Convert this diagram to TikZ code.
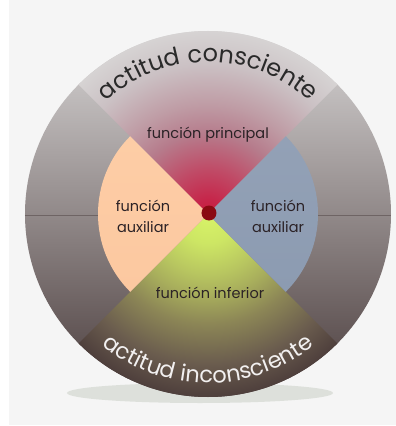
\documentclass[tikz,border=0pt]{standalone}
\usepackage{fontspec}
\setmainfont{Poppins}
\usetikzlibrary{decorations.text}
\definecolor{bgc}{HTML}{F5F5F5}
\definecolor{shadowc}{HTML}{DDE0DB}
\definecolor{dtop}{HTML}{D8D6D6}
\definecolor{dmid}{HTML}{8E8A8A}
\definecolor{dbot}{HTML}{4A3C3C}
\definecolor{tw0}{HTML}{C81C3C}
\definecolor{tw1}{HTML}{C6264A}
\definecolor{tw2}{HTML}{C04A66}
\definecolor{tw3}{HTML}{B67C8C}
\definecolor{tw4}{HTML}{BF9CA5}
\definecolor{tw5}{HTML}{CBC1C4}
\definecolor{tw6}{HTML}{D6D3D3}
\definecolor{bw0}{HTML}{D8F468}
\definecolor{bw1}{HTML}{CDE664}
\definecolor{bw2}{HTML}{B8C660}
\definecolor{bw3}{HTML}{A8AE5C}
\definecolor{bw4}{HTML}{8C8656}
\definecolor{bw5}{HTML}{6A5C4E}
\definecolor{bw6}{HTML}{4E3F3C}
\definecolor{peach}{HTML}{FCC8A0}
\definecolor{peachtop}{HTML}{FDCDA6}
\definecolor{bluegray}{HTML}{8C9BB1}
\definecolor{bluegraytop}{HTML}{93A1B6}
\definecolor{dotc}{HTML}{8A0A12}
\definecolor{linec}{HTML}{6E6464}
\definecolor{labc}{HTML}{2B2226}
\definecolor{toptext}{HTML}{2A2A2A}
\definecolor{bottext}{HTML}{F2F0F0}
\pgfdeclareradialshading{topwedge}{\pgfpoint{0bp}{0bp}}{color(0bp)=(tw0); color(2bp)=(tw1); color(6bp)=(tw2); color(11bp)=(tw3); color(15bp)=(tw4); color(20.5bp)=(tw5); color(25bp)=(tw6); color(50bp)=(tw6)}
\pgfdeclareradialshading{botwedge}{\pgfpoint{0bp}{0bp}}{color(0bp)=(bw0); color(4bp)=(bw1); color(8.2bp)=(bw2); color(11bp)=(bw3); color(15bp)=(bw4); color(20.5bp)=(bw5); color(25bp)=(bw6); color(50bp)=(bw6)}
\tikzset{
  lab/.style={text=labc, font=\fontsize{14.5}{21}\selectfont, align=center, inner sep=0pt},
  ringline/.style={draw=linec, line width=0.8pt}
}
\begin{document}
\begin{tikzpicture}[x=1pt,y=1pt]
\useasboundingbox (-208,-212) rectangle (188,214);
\fill[white] (-208,-212) rectangle (188,214);
\fill[bgc] (-199,-211) rectangle (188,214);
% shadow
\fill[shadowc] (-8,-179) ellipse [x radius=133pt, y radius=10pt];
% outer disc
\shade[top color=dtop, middle color=dmid, bottom color=dbot] (0,0) circle [radius=183pt];
% top wedge
\begin{scope}
  \clip (0,0) -- (45:183pt) arc[start angle=45, end angle=135, radius=183pt] -- cycle;
  \shade[shading=topwedge] (0,0) circle [radius=183pt];
\end{scope}
% bottom wedge
\begin{scope}
  \clip (0,0) -- (225:183pt) arc[start angle=225, end angle=315, radius=183pt] -- cycle;
  \shade[shading=botwedge] (0,0) circle [radius=183pt];
\end{scope}
% side sectors
\shade[top color=peachtop, bottom color=peach] (0,0) -- (135:110pt) arc[start angle=135, end angle=225, radius=110pt] -- cycle;
\shade[top color=bluegraytop, bottom color=bluegray] (0,0) -- (-45:110pt) arc[start angle=-45, end angle=45, radius=110pt] -- cycle;
% horizontal lines
\coordinate (lo) at (-183,-1);
\coordinate (li) at (-110,-1);
\coordinate (ri) at (110,-1);
\coordinate (ro) at (183,-1);
\draw[ringline] (lo) -- (li);
\draw[ringline] (ri) -- (ro);
% center dot
\fill[dotc] (1,1) circle [radius=7.5pt];
% curved texts
\path[decorate, decoration={text along path, text align=center,
  text={|\fontsize{24}{24}\selectfont\color{toptext}|actitud consciente}}]
  (160:152pt) arc[start angle=160, end angle=20, radius=152pt];
\path[decorate, decoration={text along path, text align=center,
  text={|\fontsize{22.5}{22.5}\selectfont\color{bottext}|actitud inconsciente}}]
  (200:169pt) arc[start angle=200, end angle=340, radius=169pt];
% labels
\node[lab] (princ) at (0,79) {función principal};
\node[lab] (auxl) at (-65,-2) {función\\auxiliar};
\node[lab] (auxr) at (70,-2) {función\\auxiliar};
\node[lab] (infer) at (2,-79) {función inferior};
\end{tikzpicture}
\end{document}
